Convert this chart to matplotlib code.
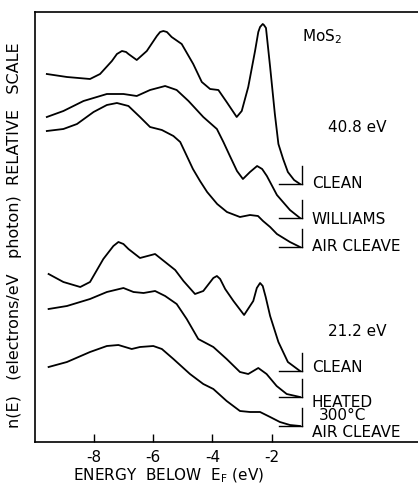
# MoS2 photoemission spectra, 40.8 eV and 21.2 eV
import numpy as np
import matplotlib.pyplot as plt

plt.rcParams['font.family'] = ['DejaVu Sans']
plt.rcParams['mathtext.default'] = 'regular'

# energy below E_F (eV) and n(E) on a relative scale
e_clean40 = [-9.60, -8.92, -8.14, -7.80, -7.40, -7.23, -7.06, -6.92, -6.84, -6.56, -6.22,
             -5.88, -5.77, -5.66, -5.54, -5.38, -5.04, -4.65, -4.36, -4.08, -3.80, -3.52,
             -3.18, -3.01, -2.79, -2.56, -2.45, -2.39, -2.30, -2.26, -2.19, -2.05, -1.89,
             -1.77, -1.61, -1.45, -1.24, -1.04]
n_clean40 = [368, 365, 363, 368, 381, 388, 391, 390, 388, 382, 391,
             406, 410, 411, 410, 405, 398, 378, 360, 353, 352, 340,
             325, 331, 355, 391, 410, 415, 418, 417, 414, 375, 328,
             298, 283, 270, 262, 258]

e_williams = [-9.60, -9.04, -8.36, -7.57, -7.01, -6.56, -6.11, -5.60, -5.21, -4.81, -4.31,
              -3.85, -3.63, -3.41, -3.17, -2.97, -2.73, -2.49, -2.32, -2.16, -1.82, -1.38,
              -1.04]
n_williams = [325, 331, 341, 348, 348, 346, 352, 356, 352, 341, 325,
              313, 300, 286, 271, 263, 270, 276, 273, 266, 247, 232,
              224]

e_air40 = [-9.60, -9.04, -8.58, -8.02, -7.57, -7.23, -6.84, -6.45, -6.11, -5.71, -5.32,
           -5.09, -4.93, -4.66, -4.42, -4.18, -3.84, -3.51, -3.07, -2.73, -2.46, -2.29,
           -2.05, -1.82, -1.38, -1.04]
n_air40 = [311, 313, 318, 330, 337, 339, 336, 325, 315, 312, 306,
           300, 290, 273, 261, 250, 238, 230, 225, 227, 226, 221,
           215, 208, 200, 195]

e_clean21 = [-9.54, -9.04, -8.47, -8.14, -7.69, -7.35, -7.18, -7.01, -6.84, -6.45, -5.94,
             -5.60, -5.26, -4.98, -4.59, -4.31, -3.97, -3.85, -3.74, -3.57, -3.29, -2.93,
             -2.62, -2.50, -2.39, -2.30, -2.20, -2.05, -1.77, -1.45, -1.04]
n_clean21 = [168, 160, 155, 160, 183, 196, 200, 198, 193, 184, 188,
             180, 172, 161, 148, 151, 164, 166, 163, 153, 141, 127,
             141, 154, 159, 156, 145, 126, 100, 80, 71]

e_heated = [-9.54, -8.92, -8.14, -7.57, -7.01, -6.67, -6.33, -5.94, -5.60, -5.21, -4.87,
            -4.48, -3.97, -3.52, -3.07, -2.79, -2.45, -2.17, -1.83, -1.49, -1.04]
n_heated = [133, 136, 143, 150, 154, 150, 149, 151, 146, 138, 123,
            103, 95, 83, 70, 68, 74, 68, 56, 48, 45]

e_air21 = [-9.54, -8.92, -8.14, -7.57, -7.18, -6.73, -6.45, -6.00, -5.71, -5.32, -4.76,
           -4.31, -3.97, -3.52, -3.07, -2.73, -2.39, -2.05, -1.72, -1.38, -1.04]
n_air21 = [75, 80, 90, 96, 97, 93, 95, 96, 93, 83, 68,
           58, 53, 41, 31, 30, 30, 25, 20, 17, 16]

curves = [(e_clean40, n_clean40), (e_williams, n_williams), (e_air40, n_air40),
          (e_clean21, n_clean21), (e_heated, n_heated), (e_air21, n_air21)]
baselines = [258, 224, 195, 71, 45, 16]

xticks = [-8, -6, -4, -2]
xticklabels = ['-8', '-6', '-4', '-2']

fig = plt.figure(figsize=(4.18, 4.85), dpi=100)
ax = fig.add_axes([35/418, 42/485, 383/418, 430/485])

for e, n in curves:
    ax.plot(e, n, color='black', lw=1.3, solid_joinstyle='round')

# zero-level markers at the right end of every curve
for b in baselines:
    ax.plot([-1.75, -0.97], [b, b], color='black', lw=1.0)
    ax.plot([-0.97, -0.97], [b, b + 18], color='black', lw=1.0)

ax.set_xlim(-10.0, 2.95)
ax.set_ylim(0, 430)
ax.set_xticks(xticks)
ax.set_xticklabels(xticklabels, fontsize=11)
ax.set_yticks([])
ax.tick_params(axis='x', direction='in', length=6, width=1.0, pad=5)
ax.spines['right'].set_visible(False)
for s in ['left', 'top', 'bottom']:
    ax.spines[s].set_linewidth(1.2)

fs = 11
lx = -0.64
ax.text(-0.97, 406, 'MoS$_2$', fontsize=fs, va='center')
ax.text(-0.09, 315, '40.8 eV', fontsize=fs, va='center')
ax.text(-0.09, 111, '21.2 eV', fontsize=fs, va='center')
ax.text(lx, 260, 'CLEAN', fontsize=fs, va='center')
ax.text(lx, 223, 'WILLIAMS', fontsize=fs, va='center')
ax.text(lx, 196, 'AIR CLEAVE', fontsize=fs, va='center')
ax.text(lx, 75, 'CLEAN', fontsize=fs, va='center')
ax.text(lx, 23, 'HEATED\n300°C', fontsize=fs, va='baseline',
        multialignment='center', linespacing=0.85)
ax.text(lx, 6, 'AIR CLEAVE', fontsize=fs, va='baseline')

fig.text(169/418, 1 - 476/485, 'ENERGY  BELOW  E$_F$ (eV)', fontsize=fs,
         ha='center', va='center')
fig.text(15/418, 1 - 235/485, 'n(E)   (electrons/eV   photon)  RELATIVE   SCALE',
         fontsize=11.5, rotation=90, ha='center', va='center')

fig.savefig('out.png', dpi=100)
